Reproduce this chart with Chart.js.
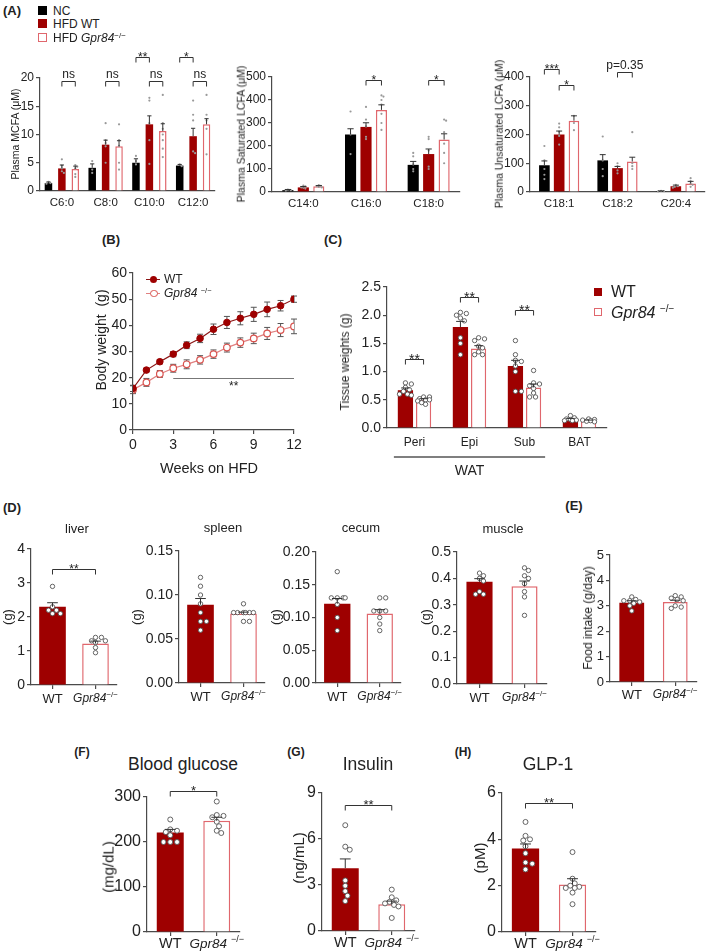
<!DOCTYPE html>
<html><head><meta charset="utf-8">
<script src="https://cdn.jsdelivr.net/npm/chart.js@4.4.1/dist/chart.umd.min.js"></script>
<style>
html,body{margin:0;padding:0;background:#fff;}
body{width:709px;height:952px;position:relative;overflow:hidden;font-family:Arial,"Liberation Sans",Helvetica,sans-serif;color:#222;}
canvas{position:absolute;}
.t{position:absolute;white-space:nowrap;line-height:1;}
.sq{position:absolute;box-sizing:border-box;}
</style></head><body>
<script>
// ---------- Panel A: plasma fatty acids ----------
const mcfaCats = ['C6:0', 'C8:0', 'C10:0', 'C12:0'];
const mcfaNC = [1.4, 4.1, 5.0, 4.5];
const mcfaNCsem = [0.2, 0.7, 0.7, 0.2];
const mcfaWT = [4.0, 8.2, 11.8, 9.7];
const mcfaWTsem = [0.6, 0.8, 1.5, 1.4];
const mcfaKO = [3.9, 7.9, 10.6, 11.8];
const mcfaKOsem = [0.5, 1.0, 1.3, 1.0];
const mcfaNCpts = [[1.6, 1.4, 1.3], [5.3, 3.8, 3.2], [6.2, 5.3, 4.7], [4.7, 4.4]];
const mcfaWTpts = [[5.6, 4.5, 4.0, 3.5, 3.2], [12, 9, 8.5, 7.9, 5], [16.5, 16, 12, 9, 4.8], [16, 13.5, 12.5, 7, 6.7]];
const mcfaKOpts = [[4.6, 4.3, 4.0, 3.0, 2.5], [11.8, 9, 8, 5, 3.8], [17, 12, 11, 10, 9, 7.5, 6], [17, 13.5, 12.5, 11, 6.5]];

const satCats = ['C14:0', 'C16:0', 'C18:0'];
const satNC = [8, 250, 118];
const satNCsem = [3, 25, 15];
const satWT = [20, 283, 165];
const satWTsem = [4, 18, 22];
const satKO = [25, 357, 228];
const satKOsem = [3, 22, 25];
const satNCpts = [[10, 8, 6], [350, 250, 165], [170, 155, 120, 100, 90]];
const satWTpts = [[28, 25, 20, 18, 15], [370, 315, 285, 240, 230], [240, 230, 180, 110, 100]];
const satKOpts = [[30, 27, 25, 22, 20], [420, 415, 400, 380, 340, 300, 270], [315, 310, 260, 210, 170, 125]];

const unsCats = ['C18:1', 'C18:2', 'C20:4'];
const unsNC = [93, 110, 3];
const unsNCsem = [15, 20, 1];
const unsWT = [200, 83, 20];
const unsWTsem = [12, 6, 4];
const unsKO = [248, 106, 30];
const unsKOsem = [17, 15, 7];
const unsNCpts = [[160, 110, 80, 60, 45], [193, 110, 80, 55], [4, 3, 2]];
const unsWTpts = [[238, 225, 210, 195, 165], [100, 90, 75, 65], [25, 20, 18, 15]];
const unsKOpts = [[265, 240, 215], [208, 100, 90, 80], [48, 38, 30, 25, 18]];

// ---------- Panel B: body weight ----------
const weeks = [0, 1, 2, 3, 4, 5, 6, 7, 8, 9, 10, 11, 12];
const bwWT = [15.9, 22.9, 26.1, 29.0, 32.4, 35.0, 38.5, 41.1, 42.7, 44.2, 46.1, 47.5, 50.0];
const bwWTsem = [1.2, 0.7, 0.8, 1.0, 1.3, 1.6, 2.0, 2.3, 2.5, 2.7, 2.8, 2.0, 1.2];
const bwKO = [15.4, 18.2, 21.4, 23.6, 25.1, 26.8, 29.0, 31.5, 33.4, 35.0, 36.9, 38.2, 39.6];
const bwKOsem = [1.5, 1.5, 1.3, 1.5, 1.7, 1.6, 1.6, 1.7, 1.8, 2.0, 2.3, 2.5, 2.8];

// ---------- Panel C: tissue weights ----------
const tisCats = ['Peri', 'Epi', 'Sub', 'BAT'];
const tisWT = [0.67, 1.79, 1.10, 0.16];
const tisWTsem = [0.04, 0.10, 0.10, 0.01];
const tisKO = [0.50, 1.41, 0.72, 0.13];
const tisKOsem = [0.02, 0.05, 0.06, 0.01];
const tisWTpts = [[0.8, 0.78, 0.72, 0.68, 0.65, 0.6, 0.6, 0.58], [2.05, 2.03, 2.0, 1.95, 1.9, 1.6, 1.5, 1.3], [1.55, 1.3, 1.2, 1.18, 1.1, 1.0, 0.65, 0.65], [0.22, 0.18, 0.16, 0.15, 0.14, 0.13, 0.13]];
const tisKOpts = [[0.55, 0.55, 0.52, 0.5, 0.48, 0.45, 0.42, 0.5], [1.6, 1.58, 1.55, 1.45, 1.42, 1.35, 1.3, 1.3], [1.02, 0.8, 0.78, 0.75, 0.7, 0.62, 0.55, 0.55], [0.16, 0.15, 0.14, 0.13, 0.12, 0.11]];

// ---------- Panels D-H: WT vs Gpr84-/- ----------
const grpD = ['WT', 'Gpr84−/−'];
const grpF = ['WT', 'Gpr84 −/−'];
const liverVals = [2.3, 1.22];
const liverSem = [0.12, 0.07];
const liverPts = [[2.9, 2.3, 2.2, 2.2, 2.1, 2.1], [1.4, 1.4, 1.3, 1.3, 1.25, 1.1, 0.95]];
const spleenVals = [0.089, 0.079];
const spleenSem = [0.007, 0.0015];
const spleenPts = [[0.12, 0.11, 0.10, 0.09, 0.08, 0.07, 0.07, 0.06], [0.09, 0.08, 0.08, 0.08, 0.08, 0.08, 0.08, 0.07, 0.07]];
const cecumVals = [0.121, 0.106];
const cecumSem = [0.008, 0.006];
const cecumPts = [[0.17, 0.13, 0.13, 0.13, 0.13, 0.12, 0.10, 0.08], [0.13, 0.13, 0.11, 0.11, 0.11, 0.10, 0.09, 0.08]];
const muscleVals = [0.387, 0.37];
const muscleSem = [0.012, 0.02];
const musclePts = [[0.42, 0.41, 0.40, 0.39, 0.35, 0.34, 0.34], [0.44, 0.43, 0.41, 0.40, 0.38, 0.35, 0.33, 0.26]];
const foodVals = [3.12, 3.15];
const foodSem = [0.08, 0.07];
const foodPts = [[3.35, 3.25, 3.2, 3.2, 3.15, 3.1, 3.0, 2.8], [3.4, 3.35, 3.3, 3.25, 3.2, 3.0, 2.95, 2.9]];
const glucVals = [221, 247];
const glucSem = [7, 8];
const glucPts = [[250, 228, 225, 222, 215, 200, 200, 200], [290, 260, 258, 255, 245, 235, 225, 220]];
const insVals = [4.1, 1.75];
const insSem = [0.6, 0.2];
const insPts = [[6.9, 5.5, 5.3, 3.3, 2.95, 2.6, 2.3, 1.95], [2.7, 2.2, 2.0, 1.9, 1.8, 1.7, 1.6, 0.85]];
const glpVals = [3.6, 2.05];
const glpSem = [0.2, 0.25];
const glpPts = [[4.75, 4.15, 4.0, 3.95, 3.7, 3.4, 3.0, 2.95, 2.7], [3.45, 2.3, 2.1, 2.0, 1.95, 1.9, 1.9, 1.7, 1.2]];

// ---------- styling ----------
const FONT = 'Arial, "Liberation Sans", Helvetica, sans-serif';
const RED = '#9e0000', OPEN = '#e0676d', INK = '#333', AX = '#4a4a4a';
Chart.defaults.font.family = FONT;
Chart.defaults.color = '#222';

// greedy beeswarm: horizontal offsets (pixels) for dots at pixel heights ys
function swarm(ys, r, maxHalf) {
  const order = ys.map((y, i) => i).sort((a, b) => ys[a] - ys[b]);
  const placed = [], offs = new Array(ys.length).fill(0);
  const d = 2 * r * 0.95;
  order.forEach(i => {
    const cands = [0];
    for (let k = 1; k <= 16; k++) cands.push(k * r * 0.9, -k * r * 0.9);
    let best = 0, bestPen = Infinity;
    for (const c of cands) {
      if (Math.abs(c) > maxHalf) continue;
      let pen = 0;
      for (const p of placed) {
        const dist = Math.hypot(p.x - c, p.y - ys[i]);
        if (dist < d) pen += d - dist;
      }
      if (pen === 0) { best = c; bestPen = 0; break; }
      if (pen < bestPen) { bestPen = pen; best = c; }
    }
    offs[i] = best; placed.push({x: best, y: ys[i]});
  });
  return offs;
}

const overlay = {
  id: 'overlay',
  beforeDatasetsDraw(chart) {
    if (chart.config.type !== 'line') return;
    const ctx = chart.ctx, ys = chart.scales.y;
    chart.data.datasets.forEach((ds, di) => {
      if (!ds.sem) return;
      const meta = chart.getDatasetMeta(di);
      ctx.save(); ctx.strokeStyle = '#555'; ctx.lineWidth = 1;
      meta.data.forEach((el, i) => {
        const v = ds.data[i].y;
        const yt = ys.getPixelForValue(v + ds.sem[i]), yb = ys.getPixelForValue(v - ds.sem[i]);
        ctx.beginPath();
        ctx.moveTo(el.x, yb); ctx.lineTo(el.x, yt);
        ctx.moveTo(el.x - 3, yt); ctx.lineTo(el.x + 3, yt);
        ctx.moveTo(el.x - 3, yb); ctx.lineTo(el.x + 3, yb);
        ctx.stroke();
      });
      ctx.restore();
    });
  },
  afterDatasetsDraw(chart) {
    const ctx = chart.ctx, ys = chart.scales.y, xs = chart.scales.x;
    const o = chart.options.plugins.overlay || {};
    ctx.save();
    if (chart.config.type === 'bar') {
      chart.data.datasets.forEach((ds, di) => {
        const meta = chart.getDatasetMeta(di);
        meta.data.forEach((el, i) => {
          if (ds.pts && ds.pts[i]) {
            const r = o.dotR || 2.5;
            const py = ds.pts[i].map(v => ys.getPixelForValue(v));
            const off = swarm(py, r, el.width / 2 * (o.spread || 0.85));
            py.forEach((yy, k) => {
              ctx.beginPath(); ctx.arc(el.x + off[k], yy, r, 0, Math.PI * 2);
              ctx.fillStyle = o.dotFill || '#fff'; ctx.fill();
              if (o.dotStroke) { ctx.strokeStyle = o.dotStroke; ctx.lineWidth = 0.9; ctx.stroke(); }
            });
          }
          if (ds.sem) {
            const v = ds.data[i];
            const yt = ys.getPixelForValue(v + ds.sem[i]);
            const cap = el.width * (o.capFrac || 0.28);
            ctx.strokeStyle = INK; ctx.lineWidth = 1;
            ctx.beginPath(); ctx.moveTo(el.x, el.y); ctx.lineTo(el.x, yt);
            ctx.moveTo(el.x - cap, yt); ctx.lineTo(el.x + cap, yt); ctx.stroke();
          }
        });
      });
    }
    const fs = o.sigSize || 12;
    const sigText = (text, x, Y) => {
      ctx.font = fs + 'px ' + FONT; ctx.fillStyle = '#222'; ctx.textAlign = 'center'; ctx.textBaseline = 'alphabetic';
      const star = /^\*+$/.test(text);
      ctx.fillText(text, x, star ? Y - 2 + 0.43 * fs : Y - 4);
    };
    (o.brackets || []).forEach(b => {
      const ea = chart.getDatasetMeta(b.a[0]).data[b.a[1]];
      const eb = chart.getDatasetMeta(b.b[0]).data[b.b[1]];
      const Y = Math.round(ys.getPixelForValue(b.y)) + 0.5;
      const tip = o.tip || 5;
      ctx.strokeStyle = INK; ctx.lineWidth = 1;
      ctx.beginPath(); ctx.moveTo(ea.x, Y + tip); ctx.lineTo(ea.x, Y); ctx.lineTo(eb.x, Y); ctx.lineTo(eb.x, Y + tip); ctx.stroke();
      sigText(b.text, (ea.x + eb.x) / 2, Y);
    });
    if (o.sigLine) {
      const s = o.sigLine;
      const Y = Math.round(ys.getPixelForValue(s.y)) + 0.5;
      ctx.strokeStyle = '#777'; ctx.lineWidth = 1;
      ctx.beginPath(); ctx.moveTo(xs.getPixelForValue(s.x1), Y); ctx.lineTo(xs.getPixelForValue(s.x2), Y); ctx.stroke();
      ctx.font = fs + 'px ' + FONT; ctx.fillStyle = '#222'; ctx.textAlign = 'center'; ctx.textBaseline = 'middle';
      ctx.fillText(s.text, xs.getPixelForValue(s.tx), ys.getPixelForValue(s.ty));
    }
    ctx.restore();
  }
};

function drawRich(ctx, lab, x, y, o) {
  const m = lab.match(/^(Gpr84)(\s?)(−\/−)$/);
  ctx.textBaseline = 'alphabetic'; ctx.fillStyle = '#222';
  if (!m) {
    ctx.font = o.size + 'px ' + FONT; ctx.textAlign = 'center';
    ctx.fillText(lab, x, y + o.size * 0.36); return;
  }
  const f1 = 'italic ' + o.isize + 'px ' + FONT, f2 = o.ssize + 'px ' + FONT;
  ctx.font = f1; const w1 = ctx.measureText(m[1] + m[2]).width;
  ctx.font = f2; const w2 = ctx.measureText(m[3]).width;
  const x0 = x - (w1 + w2) / 2;
  ctx.textAlign = 'left';
  ctx.font = f1; ctx.fillText(m[1] + m[2], x0, y + o.isize * 0.36);
  ctx.font = f2; ctx.fillText(m[3], x0 + w1, y + o.isize * 0.36 - o.isize * 0.42);
}

const richX = {
  id: 'richx',
  afterDraw(chart) {
    const o = chart.options.plugins.richx;
    if (!o || o.dy === undefined) return;
    const ctx = chart.ctx, xs = chart.scales.x;
    ctx.save();
    chart.data.labels.forEach((lab, i) => drawRich(ctx, lab, xs.getPixelForValue(i), xs.top + o.dy, o));
    if (o.group) {
      const g = o.group;
      const half = (xs.getPixelForValue(1) - xs.getPixelForValue(0)) / 2;
      const x1 = xs.getPixelForValue(g.from) - half * g.frac, x2 = xs.getPixelForValue(g.to) + half * g.frac;
      ctx.strokeStyle = '#555'; ctx.lineWidth = 1.6;
      ctx.beginPath(); ctx.moveTo(x1, xs.top + g.dy); ctx.lineTo(x2, xs.top + g.dy); ctx.stroke();
      ctx.font = g.size + 'px ' + FONT; ctx.fillStyle = '#222'; ctx.textAlign = 'center'; ctx.textBaseline = 'middle';
      ctx.fillText(g.text, (x1 + x2) / 2, xs.top + g.tdy);
    }
    ctx.restore();
  }
};
Chart.register(overlay, richX);

function mk(rect, m, cfg) {
  const c = document.createElement('canvas');
  const w = rect.r - rect.l + m.L + m.R, h = rect.b - rect.t + m.T + m.B;
  c.width = w; c.height = h;
  c.style.left = (rect.l - m.L) + 'px'; c.style.top = (rect.t - m.T) + 'px';
  c.style.width = w + 'px'; c.style.height = h + 'px';
  document.body.appendChild(c);
  const op = cfg.options;
  op.responsive = false; op.animation = false; op.devicePixelRatio = 1;
  op.layout = {autoPadding: false, padding: {top: m.T, right: m.R, left: 0, bottom: 0}};
  op.scales.x.afterFit = s => { s.height = m.B; s.paddingLeft = 0; s.paddingRight = 0; };
  op.scales.y.afterFit = s => { s.width = m.L; s.paddingTop = 0; s.paddingBottom = 0; };
  return new Chart(c, cfg);
}

function yScale(p) {
  return {min: p.y[0], max: p.y[1],
    ticks: {stepSize: p.y[2], font: {size: p.yfs}, color: '#222', padding: 2, callback: p.fmt || (v => v)},
    grid: {display: true, drawOnChartArea: false, drawTicks: true, tickLength: 4, color: AX, lineWidth: 1.2},
    border: {display: true, color: AX, width: 1.2}};
}

function barOpts(p) {
  return {
    datasets: {bar: {categoryPercentage: p.cat, barPercentage: p.bar, borderSkipped: 'start'}},
    plugins: {legend: {display: false}, tooltip: {enabled: false},
      overlay: {dotR: p.dotR, dotFill: p.dotFill, dotStroke: p.dotStroke, brackets: p.brackets || [], sigSize: p.sigSize, capFrac: p.capFrac, spread: p.spread},
      richx: {dy: p.dy, size: p.xfs, isize: p.xifs || p.xfs, ssize: p.xsfs || 8, group: p.group}},
    scales: {
      x: {type: 'category', offset: true,
        grid: {display: true, drawOnChartArea: false, drawTicks: !!p.xticks, tickLength: 4, color: AX, offset: false, lineWidth: 1.2},
        border: {display: true, color: AX, width: 1.2}, ticks: {display: false}},
      y: yScale(p)
    }
  };
}

function tri(cats, nc, ncs, ncp, wt, wts, wtp, ko, kos, kop) {
  return {labels: cats, datasets: [
    {data: nc, sem: ncs, pts: ncp, backgroundColor: '#000', borderWidth: 0},
    {data: wt, sem: wts, pts: wtp, backgroundColor: RED, borderWidth: 0},
    {data: ko, sem: kos, pts: kop, backgroundColor: '#fff', borderColor: OPEN, borderWidth: 1.5}
  ]};
}

function duo(cats, vals, sem, pts) {
  return {labels: cats, datasets: [
    {data: vals, sem: sem, pts: pts, backgroundColor: [RED, '#fff'], borderColor: [RED, OPEN], borderWidth: [0, 1.5]}
  ]};
}

// ---- A1 ----
mk({l: 40, t: 78, r: 215, b: 191}, {L: 40, T: 36, R: 4, B: 22}, {type: 'bar',
  data: tri(mcfaCats, mcfaNC, mcfaNCsem, mcfaNCpts, mcfaWT, mcfaWTsem, mcfaWTpts, mcfaKO, mcfaKOsem, mcfaKOpts),
  options: barOpts({cat: 0.92, bar: 0.56, y: [0, 20, 5], yfs: 12, xfs: 11.5, dy: 11, dotR: 1.1, dotFill: '#999', sigSize: 12, spread: 0.7,
    brackets: [
      {a: [1, 0], b: [2, 0], y: 19.5, text: 'ns'}, {a: [1, 1], b: [2, 1], y: 19.5, text: 'ns'},
      {a: [1, 2], b: [2, 2], y: 19.5, text: 'ns'}, {a: [1, 3], b: [2, 3], y: 19.5, text: 'ns'},
      {a: [0, 2], b: [1, 2], y: 23.7, text: '**'}, {a: [0, 3], b: [1, 3], y: 23.7, text: '*'}]})});
// ---- A2 ----
mk({l: 272, t: 77, r: 460, b: 192}, {L: 32, T: 30, R: 4, B: 22}, {type: 'bar',
  data: tri(satCats, satNC, satNCsem, satNCpts, satWT, satWTsem, satWTpts, satKO, satKOsem, satKOpts),
  options: barOpts({cat: 0.74, bar: 0.72, y: [0, 500, 100], yfs: 12, xfs: 11.5, dy: 11, dotR: 1.1, dotFill: '#999', sigSize: 12, spread: 0.7,
    brackets: [{a: [1, 1], b: [2, 1], y: 487, text: '*'}, {a: [1, 2], b: [2, 2], y: 487, text: '*'}]})});
// ---- A3 ----
mk({l: 530, t: 77, r: 705, b: 192}, {L: 32, T: 40, R: 4, B: 22}, {type: 'bar',
  data: tri(unsCats, unsNC, unsNCsem, unsNCpts, unsWT, unsWTsem, unsWTpts, unsKO, unsKOsem, unsKOpts),
  options: barOpts({cat: 0.76, bar: 0.72, y: [0, 400, 100], yfs: 12, xfs: 11.5, dy: 11, dotR: 1.1, dotFill: '#999', sigSize: 12, spread: 0.7,
    brackets: [{a: [0, 0], b: [1, 0], y: 428, text: '***'}, {a: [1, 0], b: [2, 0], y: 372, text: '*'},
      {a: [1, 1], b: [2, 1], y: 417, text: 'p=0.35'}]})});

// ---- B ----
mk({l: 133, t: 273, r: 294, b: 430}, {L: 40, T: 12, R: 14, B: 30}, {type: 'line',
  data: {datasets: [
    {data: weeks.map((w, i) => ({x: w, y: bwWT[i]})), sem: bwWTsem, borderColor: '#8c1515', borderWidth: 1.2,
      pointRadius: 3.3, pointBackgroundColor: RED, pointBorderColor: RED, pointBorderWidth: 1},
    {data: weeks.map((w, i) => ({x: w, y: bwKO[i]})), sem: bwKOsem, borderColor: '#e08080', borderWidth: 1.2,
      pointRadius: 3.3, pointBackgroundColor: '#fff', pointBorderColor: '#d9534f', pointBorderWidth: 1.2}
  ]},
  options: {
    plugins: {legend: {display: false}, tooltip: {enabled: false},
      overlay: {sigSize: 12, sigLine: {x1: 3, x2: 12, y: 20, tx: 7.5, ty: 16.5, text: '**'}}},
    scales: {
      x: {type: 'linear', min: 0, max: 12,
        ticks: {stepSize: 3, font: {size: 14}, color: '#222', padding: 3},
        grid: {display: true, drawOnChartArea: false, drawTicks: true, tickLength: 4, color: AX, lineWidth: 1.2},
        border: {display: true, color: AX, width: 1.2}},
      y: yScale({y: [0, 60, 10], yfs: 14})
    }
  }});

// ---- C ----
mk({l: 387, t: 287, r: 607, b: 428}, {L: 45, T: 12, R: 4, B: 52}, {type: 'bar',
  data: {labels: tisCats, datasets: [
    {data: tisWT, sem: tisWTsem, pts: tisWTpts, backgroundColor: RED, borderWidth: 0},
    {data: tisKO, sem: tisKOsem, pts: tisKOpts, backgroundColor: '#fff', borderColor: OPEN, borderWidth: 1.5}]},
  options: barOpts({cat: 0.66, bar: 0.84, y: [0, 2.5, 0.5], fmt: v => v.toFixed(1), yfs: 14, xfs: 12, dy: 14,
    dotR: 2.2, dotFill: '#fff', dotStroke: '#555', sigSize: 14, spread: 0.95,
    group: {from: 0, to: 2, frac: 0.75, dy: 29, tdy: 43, text: 'WAT', size: 14},
    brackets: [{a: [0, 0], b: [1, 0], y: 1.22, text: '**'}, {a: [0, 1], b: [1, 1], y: 2.32, text: '**'},
      {a: [0, 2], b: [1, 2], y: 2.09, text: '**'}]})});

// ---- D ----
const dCommon = {cat: 1, bar: 0.62, yfs: 14, xfs: 13, xifs: 12, xsfs: 8, dy: 13, xticks: true,
  dotR: 2.2, dotFill: '#fff', dotStroke: '#555', sigSize: 12, capFrac: 0.2, spread: 0.75};
mk({l: 31, t: 549, r: 117, b: 685}, {L: 31, T: 25, R: 4, B: 22}, {type: 'bar',
  data: duo(grpD, liverVals, liverSem, liverPts),
  options: barOpts(Object.assign({}, dCommon, {y: [0, 4, 1], brackets: [{a: [0, 0], b: [0, 1], y: 3.4, text: '**'}]}))});
mk({l: 179, t: 551, r: 265, b: 683}, {L: 45, T: 10, R: 4, B: 22}, {type: 'bar',
  data: duo(grpD, spleenVals, spleenSem, spleenPts),
  options: barOpts(Object.assign({}, dCommon, {y: [0, 0.15, 0.05], fmt: v => v.toFixed(2)}))});
mk({l: 316, t: 552, r: 401, b: 683}, {L: 45, T: 10, R: 4, B: 22}, {type: 'bar',
  data: duo(grpD, cecumVals, cecumSem, cecumPts),
  options: barOpts(Object.assign({}, dCommon, {y: [0, 0.2, 0.05], fmt: v => v.toFixed(2)}))});
mk({l: 457, t: 552, r: 547, b: 684}, {L: 38, T: 10, R: 4, B: 22}, {type: 'bar',
  data: duo(grpD, muscleVals, muscleSem, musclePts),
  options: barOpts(Object.assign({}, dCommon, {bar: 0.58, y: [0, 0.5, 0.1], fmt: v => v.toFixed(1)}))});
// ---- E ----
mk({l: 610, t: 555, r: 697, b: 682}, {L: 20, T: 10, R: 4, B: 22}, {type: 'bar',
  data: duo(grpD, foodVals, foodSem, foodPts),
  options: barOpts(Object.assign({}, dCommon, {bar: 0.57, yfs: 13, dy: 12, y: [0, 5, 1]}))});

// ---- F/G/H ----
const fCommon = {cat: 1, bar: 0.58, yfs: 16, xfs: 14.5, xifs: 13.5, xsfs: 9, dy: 11, xticks: true,
  dotR: 2.5, dotFill: '#fff', dotStroke: '#555', sigSize: 13, capFrac: 0.2, spread: 0.8};
mk({l: 147, t: 797, r: 240, b: 932}, {L: 40, T: 20, R: 4, B: 20}, {type: 'bar',
  data: duo(grpF, glucVals, glucSem, glucPts),
  options: barOpts(Object.assign({}, fCommon, {y: [0, 300, 100], brackets: [{a: [0, 0], b: [0, 1], y: 313, text: '*'}]}))});
mk({l: 322, t: 793, r: 415, b: 931}, {L: 20, T: 20, R: 4, B: 21}, {type: 'bar',
  data: duo(grpF, insVals, insSem, insPts),
  options: barOpts(Object.assign({}, fCommon, {y: [0, 9, 3], brackets: [{a: [0, 0], b: [0, 1], y: 8.2, text: '**'}]}))});
mk({l: 502, t: 793, r: 596, b: 932}, {L: 20, T: 20, R: 4, B: 20}, {type: 'bar',
  data: duo(grpF, glpVals, glpSem, glpPts),
  options: barOpts(Object.assign({}, fCommon, {y: [0, 6, 2], brackets: [{a: [0, 0], b: [0, 1], y: 5.55, text: '**'}]}))});

// ---------- HTML text ----------
function label(html, x, y, size, extra, rot) {
  const d = document.createElement('div'); d.className = 't'; d.innerHTML = html;
  d.style.left = x + 'px'; d.style.top = y + 'px'; d.style.fontSize = size + 'px';
  if (extra) d.style.cssText += extra;
  d.style.transform = 'translate(-50%,-50%)' + (rot ? ' rotate(-90deg)' : '');
  document.body.appendChild(d);
}
function leftLabel(html, x, y, size) {
  const d = document.createElement('div'); d.className = 't'; d.innerHTML = html;
  d.style.left = x + 'px'; d.style.top = y + 'px'; d.style.fontSize = size + 'px';
  d.style.transform = 'translate(0,-50%)';
  document.body.appendChild(d);
}
function square(x, y, s, fill, border) {
  const d = document.createElement('div'); d.className = 'sq';
  d.style.left = x + 'px'; d.style.top = y + 'px'; d.style.width = s + 'px'; d.style.height = s + 'px';
  d.style.background = fill; if (border) d.style.border = '1.5px solid ' + border;
  document.body.appendChild(d);
}
const B = 'font-weight:bold;';
const KO = (sp, s) => '<i>Gpr84</i>' + sp + '<span style="font-size:' + s + 'px;vertical-align:' + (s * 0.6) + 'px">−/−</span>';

// panel letters
label('(A)', 12, 10, 13, B); label('(B)', 111, 239, 13, B); label('(C)', 333, 239, 13, B);
label('(D)', 12, 507, 13, B); label('(E)', 574, 505, 13, B);
label('(F)', 82, 752, 12, B); label('(G)', 296, 752, 12, B); label('(H)', 463, 752, 12, B);

// A legend
square(38, 6, 9, '#000'); square(38, 19, 9, RED); square(38, 33, 9, '#fff', OPEN);
leftLabel('NC', 53, 11, 12); leftLabel('HFD WT', 53, 24, 12); leftLabel('HFD ' + KO('', 8), 53, 38, 12);
// A axis titles
label('Plasma MCFA (μM)', 15, 134, 10.5, '', true);
label('Plasma Saturated LCFA (μM)', 241, 134, 10.5, '', true);
label('Plasma Unsaturated LCFA (μM)', 499, 134, 10.5, '', true);

// B
label('Body weight&nbsp; (g)', 101, 340, 14, '', true);
label('Weeks on HFD', 209, 468, 14.5);
(function () {
  const l1 = document.createElement('div'); l1.className = 'sq';
  l1.style.cssText += 'left:146px;top:278.5px;width:14px;height:1.3px;background:#8c1515;';
  document.body.appendChild(l1);
  const c1 = document.createElement('div'); c1.className = 'sq';
  c1.style.cssText += 'left:150px;top:276px;width:7px;height:7px;border-radius:50%;background:' + RED + ';';
  document.body.appendChild(c1);
  const l2 = document.createElement('div'); l2.className = 'sq';
  l2.style.cssText += 'left:146px;top:292.5px;width:14px;height:1.3px;background:#e08080;';
  document.body.appendChild(l2);
  const c2 = document.createElement('div'); c2.className = 'sq';
  c2.style.cssText += 'left:150px;top:289.5px;width:7.5px;height:7.5px;border-radius:50%;background:#fff;border:1.2px solid #d9534f;';
  document.body.appendChild(c2);
})();
leftLabel('WT', 164, 279, 12); leftLabel(KO(' ', 7.5), 164, 293, 12);

// C
label('Tissue weights (g)', 345, 362, 12, '', true);
square(594, 288, 8, RED); square(594, 308, 8, '#fff', OPEN);
leftLabel('WT', 611, 292, 16); leftLabel(KO(' ', 10), 611, 312, 16);

// D titles
label('liver', 77, 528, 13); label('spleen', 223, 527, 13); label('cecum', 361, 527, 13); label('muscle', 503, 528, 13);
label('(g)', 7, 617, 13, '', true); label('(g)', 136, 617, 13, '', true);
label('(g)', 275, 617, 13, '', true); label('(g)', 425, 617, 13, '', true);
// E
label('Food intake (g/day)', 588, 618, 12, '', true);
// F G H
label('Blood glucose', 183, 765, 17.5); label('Insulin', 368, 765, 17.5); label('GLP-1', 548, 765, 17.5);
label('(mg/dL)', 108, 867, 15, '', true); label('(ng/mL)', 298, 858, 15, '', true); label('(pM)', 479, 858, 15, '', true);
</script>
</body></html>
